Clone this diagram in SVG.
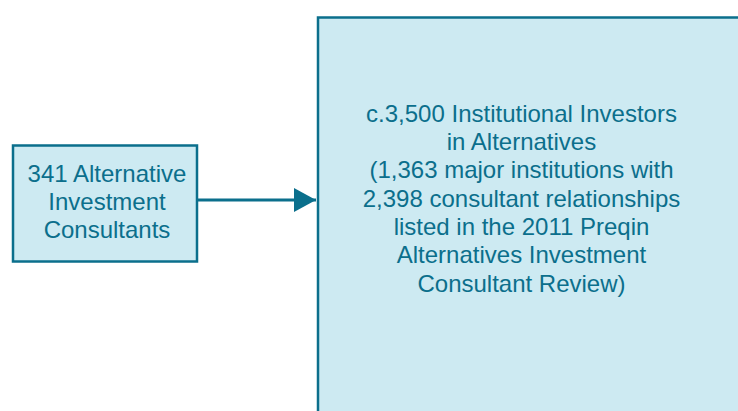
<svg xmlns="http://www.w3.org/2000/svg" width="738" height="411" viewBox="0 0 738 411">
  <style>
    .box { fill: #cdeaf2; stroke: #0b6f8c; stroke-width: 2.5; }
    .label { font-family: "Liberation Sans", Arial, sans-serif; font-size: 24px; fill: #0b6f8c; text-anchor: middle; }
    .link { stroke: #0b6f8c; stroke-width: 3; fill: none; }
  </style>
  <defs>
    <marker id="arrow" markerUnits="userSpaceOnUse" markerWidth="24" markerHeight="24" refX="22" refY="12" orient="auto">
      <path d="M0,0 L22,12 L0,24 Z" fill="#0b6f8c"/>
    </marker>
  </defs>
  <rect width="738" height="411" fill="#ffffff"/>

  <g id="consultants">
    <rect class="box" x="13" y="145.5" width="184" height="116"/>
    <text class="label" x="107" y="181.5">341 Alternative</text>
    <text class="label" x="107" y="209.5">Investment</text>
    <text class="label" x="107" y="237.5">Consultants</text>
  </g>

  <g id="investors">
    <rect class="box" x="318" y="17.5" width="440" height="420"/>
    <text class="label" x="521.5" y="121.5">c.3,500 Institutional Investors</text>
    <text class="label" x="521.5" y="149.8">in Alternatives</text>
    <text class="label" x="521.5" y="178.2">(1,363 major institutions with</text>
    <text class="label" x="521.5" y="206.5">2,398 consultant relationships</text>
    <text class="label" x="521.5" y="234.8">listed in the 2011 Preqin</text>
    <text class="label" x="521.5" y="263.2">Alternatives Investment</text>
    <text class="label" x="521.5" y="291.5">Consultant Review)</text>
  </g>

  <g id="connectors">
    <line class="link" x1="198" y1="200" x2="316" y2="200" marker-end="url(#arrow)"/>
  </g>
</svg>
